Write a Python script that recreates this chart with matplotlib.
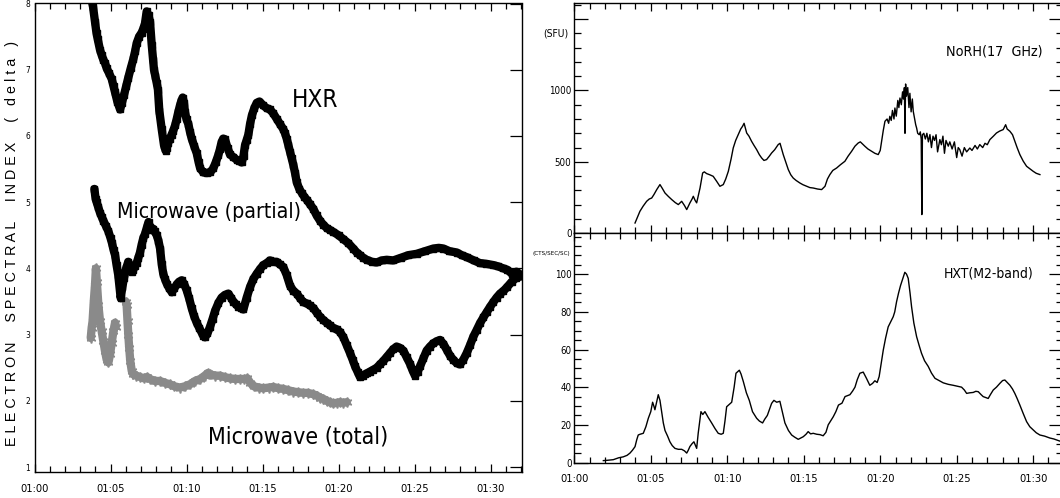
import matplotlib
matplotlib.use("Agg")
import numpy as np
import matplotlib.pyplot as plt
from matplotlib import font_manager
from matplotlib.ticker import MultipleLocator, FuncFormatter, FixedLocator

_names = {f.name for f in font_manager.fontManager.ttflist}
NARROW = "Liberation Sans Narrow" if "Liberation Sans Narrow" in _names else "DejaVu Sans"
STRETCH = "normal" if NARROW == "Liberation Sans Narrow" else "condensed"
plt.rcParams["font.family"] = [NARROW, "DejaVu Sans"]
plt.rcParams["font.stretch"] = STRETCH

# ---------------- data (time in minutes after 01:00 UT) ----------------
hxr_points = [(3.76, 8.05), (3.85, 7.95), (3.98, 7.72), (4.08, 7.55), (4.16, 7.46), (4.31, 7.3),
              (4.42, 7.22), (4.53, 7.15), (4.64, 7.1), (4.75, 7.02), (4.9, 6.95), (5.08, 6.86),
              (5.2, 6.75), (5.3, 6.66), (5.45, 6.52), (5.63, 6.4), (5.75, 6.5), (5.89, 6.62),
              (6.03, 6.75), (6.17, 6.88), (6.33, 7.02), (6.5, 7.16), (6.62, 7.28), (6.72, 7.4),
              (6.88, 7.5), (7.05, 7.56), (7.16, 7.62), (7.27, 7.7), (7.38, 7.88), (7.5, 7.82),
              (7.6, 7.72), (7.71, 7.38), (7.8, 7.15), (7.86, 7.0), (7.95, 6.9), (8.04, 6.8),
              (8.12, 6.7), (8.21, 6.38), (8.37, 6.1), (8.52, 5.86), (8.62, 5.78), (8.7, 5.82),
              (8.8, 5.9), (8.91, 5.96), (9.02, 6.02), (9.13, 6.08), (9.25, 6.16), (9.36, 6.26),
              (9.46, 6.36), (9.57, 6.46), (9.66, 6.53), (9.75, 6.58), (9.83, 6.5), (9.9, 6.36),
              (10.0, 6.25), (10.12, 6.18), (10.23, 6.06), (10.34, 5.96), (10.5, 5.85), (10.67, 5.74),
              (10.8, 5.6), (10.9, 5.51), (11.1, 5.45), (11.33, 5.44), (11.55, 5.45), (11.76, 5.51),
              (11.92, 5.6), (12.09, 5.71), (12.2, 5.8), (12.31, 5.91), (12.42, 5.96), (12.53, 5.95),
              (12.7, 5.82), (12.86, 5.72), (13.08, 5.68), (13.3, 5.64), (13.46, 5.62), (13.63, 5.6),
              (13.75, 5.7), (13.85, 5.86), (13.96, 5.94), (14.07, 6.02), (14.18, 6.18), (14.3, 6.31),
              (14.46, 6.42), (14.62, 6.5), (14.8, 6.52), (15.05, 6.46), (15.27, 6.42), (15.49, 6.4),
              (15.71, 6.34), (15.93, 6.26), (16.15, 6.18), (16.37, 6.1), (16.48, 6.04), (16.59, 5.96),
              (16.7, 5.86), (16.81, 5.76), (16.92, 5.66), (17.03, 5.56), (17.14, 5.44), (17.25, 5.3),
              (17.42, 5.2), (17.58, 5.14), (17.75, 5.08), (17.9, 5.04), (18.12, 4.97), (18.34, 4.9),
              (18.56, 4.8), (18.78, 4.72), (19.0, 4.66), (19.22, 4.61), (19.44, 4.58), (19.66, 4.55),
              (20.0, 4.5), (20.32, 4.44), (20.65, 4.38), (20.97, 4.3), (21.2, 4.24), (21.41, 4.2),
              (21.63, 4.16), (21.85, 4.13), (22.2, 4.1), (22.51, 4.09), (22.85, 4.12), (23.17, 4.13),
              (23.6, 4.12), (24.1, 4.16), (24.6, 4.2), (25.14, 4.22), (25.7, 4.26), (26.24, 4.3),
              (26.6, 4.31), (26.9, 4.3), (27.3, 4.26), (27.78, 4.24), (28.1, 4.2), (28.43, 4.17),
              (28.9, 4.12), (29.3, 4.08), (29.7, 4.07), (30.18, 4.05), (30.5, 4.03), (30.84, 4.0),
              (31.1, 3.98), (31.4, 3.92), (31.7, 3.95), (32.0, 3.9)]

partial_points = [(3.94, 5.2), (4.02, 5.05), (4.09, 5.0), (4.2, 4.92), (4.31, 4.84), (4.42, 4.78),
                  (4.53, 4.72), (4.7, 4.64), (4.86, 4.56), (5.0, 4.46), (5.1, 4.38), (5.2, 4.28),
                  (5.3, 4.2), (5.4, 4.05), (5.51, 3.9), (5.6, 3.7), (5.67, 3.55), (5.78, 3.72),
                  (5.89, 3.86), (6.03, 4.0), (6.17, 4.1), (6.3, 4.0), (6.4, 3.95), (6.5, 3.98),
                  (6.61, 4.04), (6.72, 4.08), (6.83, 4.16), (6.94, 4.24), (7.05, 4.36), (7.16, 4.46),
                  (7.27, 4.52), (7.4, 4.62), (7.5, 4.7), (7.6, 4.62), (7.7, 4.58), (7.8, 4.6),
                  (7.9, 4.56), (8.04, 4.5), (8.15, 4.42), (8.26, 4.3), (8.37, 4.06), (8.47, 3.92),
                  (8.58, 3.84), (8.7, 3.77), (8.86, 3.7), (9.03, 3.64), (9.2, 3.7), (9.36, 3.76),
                  (9.52, 3.8), (9.69, 3.82), (9.85, 3.76), (10.01, 3.67), (10.17, 3.55), (10.34, 3.4),
                  (10.5, 3.28), (10.67, 3.18), (10.84, 3.1), (11.0, 3.03), (11.11, 2.98), (11.22, 2.96),
                  (11.38, 3.02), (11.55, 3.12), (11.72, 3.24), (11.88, 3.36), (12.1, 3.48), (12.31, 3.56),
                  (12.53, 3.6), (12.75, 3.62), (12.92, 3.56), (13.08, 3.5), (13.25, 3.46), (13.41, 3.42),
                  (13.58, 3.4), (13.74, 3.38), (13.96, 3.56), (14.18, 3.72), (14.4, 3.84), (14.62, 3.92),
                  (14.84, 3.99), (15.05, 4.05), (15.27, 4.08), (15.49, 4.12), (15.71, 4.1), (15.93, 4.1),
                  (16.15, 4.06), (16.37, 4.02), (16.59, 3.9), (16.81, 3.74), (17.03, 3.66), (17.25, 3.62),
                  (17.47, 3.55), (17.69, 3.49), (17.91, 3.47), (18.13, 3.44), (18.35, 3.4), (18.57, 3.33),
                  (18.78, 3.27), (19.0, 3.22), (19.22, 3.18), (19.44, 3.14), (19.66, 3.1), (19.88, 3.08),
                  (20.1, 3.04), (20.32, 2.96), (20.54, 2.84), (20.76, 2.72), (20.93, 2.62), (21.09, 2.52),
                  (21.25, 2.44), (21.41, 2.36), (21.58, 2.38), (21.74, 2.4), (21.9, 2.42), (22.07, 2.44),
                  (22.29, 2.47), (22.51, 2.5), (22.72, 2.55), (22.94, 2.6), (23.16, 2.66), (23.38, 2.72),
                  (23.6, 2.78), (23.82, 2.82), (24.04, 2.8), (24.26, 2.76), (24.48, 2.66), (24.7, 2.56),
                  (24.87, 2.46), (25.03, 2.38), (25.2, 2.44), (25.36, 2.52), (25.58, 2.64), (25.8, 2.76),
                  (26.02, 2.82), (26.24, 2.87), (26.46, 2.9), (26.68, 2.92), (26.9, 2.86), (27.12, 2.77),
                  (27.34, 2.68), (27.55, 2.62), (27.77, 2.57), (27.99, 2.55), (28.21, 2.62), (28.43, 2.72),
                  (28.65, 2.84), (28.87, 2.97), (29.09, 3.07), (29.3, 3.17), (29.53, 3.26), (29.75, 3.34),
                  (29.97, 3.42), (30.18, 3.49), (30.4, 3.56), (30.63, 3.62), (30.85, 3.66), (31.1, 3.72),
                  (31.4, 3.8), (31.7, 3.86), (32.0, 3.88)]

total_points = [(3.7, 2.95), (3.76, 3.1), (3.82, 3.2), (3.9, 3.5), (3.98, 3.75), (4.04, 4.0),
                (4.1, 3.8), (4.2, 3.45), (4.31, 3.2), (4.42, 3.05), (4.53, 2.9), (4.64, 2.75),
                (4.75, 2.62), (4.86, 2.58), (4.97, 2.7), (5.08, 2.88), (5.19, 3.05), (5.3, 3.18),
                (5.35, 3.12), (5.6, np.nan), (6.0, 3.5), (6.06, 3.45), (6.12, 3.2), (6.17, 3.0),
                (6.23, 2.8), (6.3, 2.6), (6.4, 2.45), (6.5, 2.4), (6.7, 2.38), (6.94, 2.36),
                (7.2, 2.34), (7.4, 2.36), (7.6, 2.33), (7.9, 2.3), (8.26, 2.3), (8.6, 2.27),
                (8.91, 2.25), (9.2, 2.22), (9.57, 2.2), (9.9, 2.22), (10.23, 2.25), (10.56, 2.3),
                (10.9, 2.33), (11.2, 2.38), (11.4, 2.42), (11.55, 2.4), (11.9, 2.38), (12.2, 2.38),
                (12.5, 2.36), (12.86, 2.34), (13.2, 2.33), (13.52, 2.33), (13.8, 2.33), (14.0, 2.34),
                (14.2, 2.27), (14.43, 2.22), (14.75, 2.2), (15.05, 2.19), (15.4, 2.2), (15.71, 2.21),
                (16.05, 2.19), (16.37, 2.18), (16.7, 2.16), (17.03, 2.14), (17.36, 2.13), (17.69, 2.12),
                (18.0, 2.12), (18.34, 2.1), (18.56, 2.08), (18.78, 2.05), (19.0, 2.03), (19.22, 2.0),
                (19.44, 1.98), (19.66, 1.96), (19.88, 1.97), (20.1, 1.98), (20.32, 1.97), (20.55, 1.98)]

norh_points = [(3.97, 72), (4.1, 105), (4.29, 154), (4.5, 190), (4.73, 224), (4.9, 240), (5.06, 247),
               (5.2, 270), (5.39, 306), (5.6, 341), (5.75, 315), (5.93, 282), (6.15, 258), (6.37, 236),
               (6.6, 215), (6.8, 201), (7.02, 224), (7.2, 195), (7.35, 166), (7.56, 213), (7.7, 240),
               (7.78, 259), (7.9, 230), (8.0, 213), (8.1, 260), (8.22, 317), (8.39, 422), (8.5, 430),
               (8.65, 418), (8.85, 410), (9.08, 399), (9.3, 365), (9.52, 329), (9.74, 341), (9.9, 380),
               (10.07, 434), (10.25, 520), (10.39, 597), (10.55, 650), (10.72, 691), (10.88, 730),
               (11.0, 749), (11.1, 770), (11.27, 702), (11.42, 680), (11.59, 644), (11.75, 615),
               (11.92, 586), (12.1, 550), (12.25, 527), (12.4, 510), (12.57, 516), (12.75, 540),
               (12.9, 562), (13.1, 585), (13.33, 621), (13.45, 630), (13.66, 551), (13.85, 490),
               (13.99, 446), (14.15, 410), (14.31, 387), (14.5, 370), (14.75, 352), (14.95, 340),
               (15.19, 329), (15.4, 320), (15.62, 317), (15.9, 310), (16.17, 306), (16.39, 329),
               (16.55, 380), (16.71, 411), (16.9, 440), (17.15, 457), (17.4, 480), (17.69, 504),
               (17.9, 540), (18.13, 574), (18.35, 610), (18.56, 632), (18.7, 640), (19.0, 609),
               (19.2, 590), (19.44, 574), (19.65, 560), (19.87, 551), (20.0, 580), (20.09, 644),
               (20.2, 720), (20.31, 784), (20.45, 800), (20.55, 770), (20.63, 819), (20.72, 790),
               (20.8, 860), (20.9, 800), (20.96, 877), (21.05, 820), (21.15, 930), (21.22, 880),
               (21.29, 947), (21.38, 900), (21.46, 990), (21.52, 940), (21.58, 1020), (21.62, 700),
               (21.66, 1045), (21.72, 960), (21.8, 1020), (21.88, 880), (21.94, 980), (22.02, 850),
               (22.1, 940), (22.16, 854), (22.25, 800), (22.32, 760), (22.38, 737), (22.45, 700),
               (22.55, 690), (22.62, 710), (22.68, 660), (22.72, 131), (22.76, 690), (22.85, 700),
               (22.95, 660), (23.05, 700), (23.15, 640), (23.25, 691), (23.35, 600), (23.45, 680),
               (23.55, 650), (23.65, 690), (23.75, 570), (23.9, 656), (24.0, 620), (24.1, 680),
               (24.2, 560), (24.3, 650), (24.45, 610), (24.55, 640), (24.7, 590), (24.85, 640),
               (25.0, 530), (25.1, 600), (25.2, 586), (25.35, 540), (25.5, 600), (25.65, 570),
               (25.86, 597), (26.0, 580), (26.2, 615), (26.35, 590), (26.51, 621), (26.7, 600),
               (26.85, 630), (27.0, 620), (27.17, 656), (27.4, 680), (27.6, 702), (27.8, 715),
               (28.04, 726), (28.2, 760), (28.3, 730), (28.48, 714), (28.65, 690), (28.8, 644),
               (28.95, 600), (29.13, 551), (29.35, 505), (29.57, 469), (29.8, 450), (30.0, 434),
               (30.2, 420), (30.44, 411)]

hxt_points = [(1.9, 1.0), (2.2, 1.2), (2.55, 1.5), (2.9, 2.5), (3.2, 3.0), (3.45, 3.8), (3.64, 5.0),
              (3.8, 6.5), (3.97, 8.4), (4.08, 12), (4.18, 14.6), (4.3, 15), (4.51, 15.5), (4.68, 19),
              (4.84, 23.5), (5.0, 27), (5.12, 32), (5.2, 30), (5.27, 28), (5.38, 32), (5.49, 36),
              (5.6, 33), (5.71, 27), (5.82, 21), (5.93, 17), (6.1, 14), (6.25, 11), (6.4, 9),
              (6.58, 7.5), (6.8, 7), (7.02, 7), (7.2, 6.2), (7.35, 5), (7.45, 6.5), (7.56, 8.5),
              (7.7, 10), (7.82, 11), (7.9, 9.5), (8.0, 7.5), (8.1, 15.5), (8.2, 22), (8.28, 27),
              (8.4, 25.5), (8.54, 27), (8.75, 24), (8.98, 21), (9.2, 18), (9.41, 15.5), (9.6, 15),
              (9.74, 15.5), (9.85, 22), (9.96, 29.6), (10.15, 31), (10.29, 32), (10.45, 40),
              (10.57, 47.4), (10.79, 49), (10.9, 47), (11.05, 43), (11.25, 37), (11.44, 33),
              (11.65, 27), (11.92, 23.5), (12.1, 22), (12.31, 21), (12.45, 23), (12.62, 25),
              (12.9, 31.4), (13.05, 33), (13.23, 32), (13.44, 32.5), (13.6, 27), (13.77, 21),
              (14.0, 17), (14.21, 14.6), (14.4, 13.5), (14.64, 12.3), (14.8, 13), (14.97, 13.7),
              (15.15, 15), (15.29, 16.4), (15.45, 15.2), (15.62, 15.5), (15.85, 15), (16.06, 14.8),
              (16.27, 14.2), (16.45, 16), (16.6, 20), (16.93, 24.3), (17.1, 27), (17.27, 30.5),
              (17.5, 31.5), (17.7, 35), (18.02, 36), (18.2, 38), (18.35, 40), (18.5, 44),
              (18.67, 47.4), (18.89, 48), (19.1, 44.7), (19.32, 41), (19.5, 42), (19.65, 43.4),
              (19.8, 42.5), (19.93, 45.6), (20.05, 52), (20.2, 59.7), (20.35, 66), (20.52, 72),
              (20.7, 75), (20.85, 77.4), (20.95, 80), (21.07, 85.4), (21.2, 90), (21.33, 94),
              (21.45, 97), (21.61, 101), (21.72, 100), (21.83, 97.8), (21.95, 90), (22.05, 82.7),
              (22.2, 74), (22.38, 66.8), (22.55, 62), (22.7, 58), (22.9, 54), (23.14, 51),
              (23.35, 47.5), (23.58, 44.7), (23.85, 43.5), (24.12, 42.3), (24.45, 41.5), (24.77, 41),
              (25.05, 40.5), (25.32, 40), (25.5, 38.5), (25.65, 36.7), (25.85, 37), (26.08, 37.2),
              (26.25, 37.8), (26.41, 37.6), (26.6, 36), (26.73, 35), (26.9, 34.5), (27.06, 34),
              (27.2, 36), (27.39, 38.5), (27.6, 40), (27.82, 42), (28.0, 43.5), (28.15, 43.8),
              (28.3, 42.5), (28.48, 41), (28.65, 39), (28.8, 36.7), (28.95, 34), (29.13, 30.5),
              (29.35, 26), (29.57, 21.7), (29.78, 19), (30.0, 17.3), (30.2, 15.8), (30.44, 14.6),
              (30.75, 14), (31.09, 13), (31.35, 12.5), (31.6, 11.8), (31.8, 11.2)]

hxr_time, hxr_delta = map(list, zip(*hxr_points))
partial_time, partial_delta = map(list, zip(*partial_points))
total_time, total_delta = map(list, zip(*total_points))
norh_time, norh_flux = map(list, zip(*norh_points))
hxt_time, hxt_counts = map(list, zip(*hxt_points))

time_ticks = [0, 5, 10, 15, 20, 25, 30]
delta_ticks = [1, 2, 3, 4, 5, 6, 7, 8]
norh_ticks = [0, 500, 1000]
hxt_ticks = [0, 20, 40, 60, 80, 100]

# ---------------- figure ----------------
fig = plt.figure(figsize=(10.6, 4.98), dpi=100)
fmt_time = FuncFormatter(lambda x, p: "01:%02d" % int(round(x)))


def style_time_axis(ax, labels=True, pad=8.5):
    ax.xaxis.set_major_locator(FixedLocator(time_ticks))
    ax.xaxis.set_minor_locator(MultipleLocator(1))
    ax.xaxis.set_major_formatter(fmt_time)
    ax.tick_params(axis="x", which="both", direction="in", top=True, bottom=True,
                   labelbottom=labels, labelsize=8, pad=pad, width=0.9)
    ax.tick_params(axis="x", which="major", length=6)
    ax.tick_params(axis="x", which="minor", length=4)


# ---- left panel: spectral indices ----
ax1 = fig.add_axes([34.5 / 1060, 1 - 471.7 / 498, (521.7 - 34.5) / 1060, (471.7 - 3.5) / 498])
ax1.plot(total_time, total_delta, color="#8a8a8a", lw=6, solid_capstyle="round")
ax1.plot(total_time, total_delta, ls="none", marker=(6, 2, 0), ms=7, color="#8a8a8a", mew=1.2)
ax1.plot(partial_time, partial_delta, color="k", lw=6, solid_capstyle="round")
ax1.plot(partial_time, partial_delta, ls="none", marker="s", ms=4, color="k")
ax1.plot(hxr_time, hxr_delta, color="k", lw=6, solid_capstyle="round")
ax1.plot(hxr_time, hxr_delta, ls="none", marker="s", ms=4, color="k")
ax1.set_xlim(0, 32.05)
ax1.set_ylim(0.93, 8.0)
style_time_axis(ax1, pad=9)
ax1.yaxis.set_major_locator(FixedLocator(delta_ticks))
ax1.tick_params(axis="y", which="major", direction="in", left=False, right=True,
                labelleft=True, labelsize=6, length=9, pad=3, width=0.9)
for s in ax1.spines.values():
    s.set_linewidth(1.0)

ax1.text(18.45, 6.54, "HXR", fontsize=17.5, ha="center", va="center")
ax1.text(11.48, 4.85, "Microwave (partial)", fontsize=15.3, ha="center", va="center")
ax1.text(17.34, 1.45, "Microwave (total)", fontsize=16.6, ha="center", va="center")

fig.text(12 / 1060, 1 - 243 / 498,
         "E L E C T R O N     S P E C T R A L     I N D E X     (   d e l t a   )",
         rotation=90, ha="center", va="center", fontsize=10.3,
         family=["Liberation Sans", "DejaVu Sans"], fontstretch="normal")

# ---- right top: NoRH ----
x0 = 574.3 / 1060
w = (1063 - 574.3) / 1060
ax2 = fig.add_axes([x0, 1 - 233.3 / 498, w, (233.3 - 3) / 498])
ax2.plot(norh_time, norh_flux, color="k", lw=1.0)
ax2.set_xlim(0, 31.95)
ax2.set_ylim(0, 1612)
style_time_axis(ax2, labels=False)
ax2.yaxis.set_major_locator(FixedLocator([0, 500, 1000, 1500]))
ax2.yaxis.set_minor_locator(MultipleLocator(100))
ax2.yaxis.set_major_formatter(FuncFormatter(lambda v, p: ("%d" % v) if v in norh_ticks else ""))
ax2.tick_params(axis="y", which="both", direction="in", left=True, right=True,
                labelsize=7, pad=2, width=0.9)
ax2.tick_params(axis="y", which="major", length=10)
ax2.tick_params(axis="y", which="minor", length=5)
ax2.text(-0.35, 1400, "(SFU)", fontsize=7.5, ha="right", va="center")
ax2.text(27.43, 1270, "NoRH(17  GHz)", fontsize=10.3, ha="center", va="center")

# ---- right bottom: HXT ----
ax3 = fig.add_axes([x0, 1 - 462.5 / 498, w, (462.5 - 233.3) / 498])
ax3.plot(hxt_time, hxt_counts, color="k", lw=1.0)
ax3.set_xlim(0, 31.95)
ax3.set_ylim(0, 121.7)
style_time_axis(ax3, pad=8)
ax3.yaxis.set_major_locator(FixedLocator(hxt_ticks))
ax3.yaxis.set_minor_locator(MultipleLocator(5))
ax3.tick_params(axis="y", which="both", direction="in", left=True, right=True,
                labelsize=7, pad=2, width=0.9)
ax3.tick_params(axis="y", which="major", length=10)
ax3.tick_params(axis="y", which="minor", length=5)
ax3.text(-0.25, 111, "(CTS/SEC/SC)", fontsize=4.5, ha="right", va="center")
ax3.text(27.07, 100.6, "HXT(M2-band)", fontsize=10, ha="center", va="center")

for ax in (ax2, ax3):
    for s in ax.spines.values():
        s.set_linewidth(1.0)

fig.savefig("out.png", dpi=100)
